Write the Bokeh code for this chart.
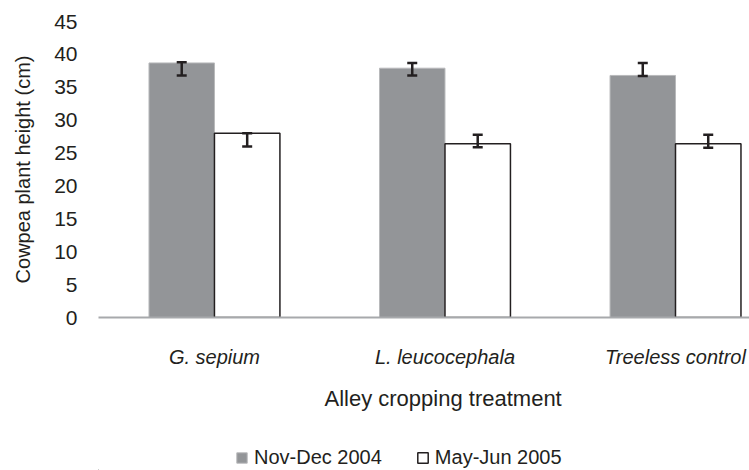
from bokeh.plotting import figure
from bokeh.models import (ColumnDataSource, Range1d, FixedTicker, Legend, LegendItem,
                          Whisker, TeeHead, Title)
from bokeh.layouts import column
from bokeh.embed import file_html
from bokeh.resources import INLINE

# ---- data ----
categories = ["G. sepium", "L. leucocephala", "Treeless control"]
nov_dec_2004 = [38.7, 37.9, 36.8]
may_jun_2005 = [28.0, 26.4, 26.4]
nov_dec_err_low = [36.8, 36.8, 36.7]
nov_dec_err_high = [38.8, 38.7, 38.7]
may_jun_err_low = [26.0, 25.9, 25.8]
may_jun_err_high = [28.0, 27.8, 27.8]
y_ticks = [0, 5, 10, 15, 20, 25, 30, 35, 40, 45]
series_names = ["Nov-Dec 2004", "May-Jun 2005"]
x_title = "Alley cropping treatment"
y_title = "Cowpea plant height (cm)"

FONT = "Liberation Sans"
TXT = "#231f20"
BW = 0.284
STYLE1 = dict(fill_color="#939598", line_color="#b8b9bb", line_width=1)
STYLE2 = dict(fill_color="white", line_color="#231f20", line_width=1.5)

idx = list(range(len(categories)))
src1 = ColumnDataSource(dict(x=[i - BW / 2 for i in idx], top=nov_dec_2004,
                             lo=nov_dec_err_low, hi=nov_dec_err_high))
src2 = ColumnDataSource(dict(x=[i + BW / 2 for i in idx], top=may_jun_2005,
                             lo=may_jun_err_low, hi=may_jun_err_high))

p = figure(width=749, height=440, output_backend="svg", toolbar_location=None,
           x_range=Range1d(-0.503, 2.321), y_range=Range1d(0, 45),
           min_border_left=98, min_border_right=0, min_border_top=21,
           min_border_bottom=123,
           outline_line_color=None, background_fill_color="white")
p.grid.visible = False

r1 = p.vbar(x="x", top="top", width=BW, bottom=0, source=src1, **STYLE1)
r2 = p.vbar(x="x", top="top", width=BW, bottom=0, source=src2, **STYLE2)

for s in (src1, src2):
    w = Whisker(base="x", lower="lo", upper="hi", source=s, line_color=TXT, line_width=2.5,
                level="annotation",
                upper_head=TeeHead(size=10, line_color=TXT, line_width=2.5),
                lower_head=TeeHead(size=10, line_color=TXT, line_width=2.5))
    p.add_layout(w)

# x axis
xa = p.xaxis[0]
xa.ticker = FixedTicker(ticks=idx)
xa.major_label_overrides = {i: c for i, c in zip(idx, categories)}
xa.major_label_text_font = FONT
xa.major_label_text_font_style = "italic"
xa.major_label_text_font_size = "20px"
xa.major_label_text_color = TXT
xa.major_tick_line_color = None
xa.major_tick_out = 0
xa.major_tick_in = 0
xa.minor_tick_line_color = None
xa.axis_line_color = "#a7a9ac"
xa.axis_line_width = 2
xa.major_label_standoff = 28

# y axis
ya = p.yaxis[0]
ya.ticker = FixedTicker(ticks=y_ticks)
ya.major_label_text_font = FONT
ya.major_label_text_font_size = "21px"
ya.major_label_text_color = TXT
ya.major_tick_line_color = None
ya.major_tick_out = 0
ya.major_tick_in = 0
ya.minor_tick_line_color = None
ya.axis_line_color = None
ya.major_label_standoff = 21
ya.axis_label = y_title
ya.axis_label_text_font = FONT
ya.axis_label_text_font_style = "normal"
ya.axis_label_text_font_size = "20px"
ya.axis_label_text_color = TXT
ya.axis_label_standoff = 17

xt = Title(text=x_title, align="left", offset=226, vertical_align="top", standoff=30,
           text_font=FONT, text_font_style="normal", text_font_size="22px",
           text_color=TXT)
p.add_layout(xt, "below")

# legend strip below the chart (its bars sit outside the strip's view; only the key shows)
lg = figure(width=749, height=30, output_backend="svg", toolbar_location=None,
            x_axis_type=None, y_axis_type=None,
            x_range=Range1d(10, 11), y_range=Range1d(100, 101),
            min_border_left=0, min_border_right=0, min_border_top=0, min_border_bottom=0,
            outline_line_color=None)
lg.grid.visible = False
k1 = lg.vbar(x="x", top="top", width=BW, bottom=0, source=src1, **STYLE1)
k2 = lg.vbar(x="x", top="top", width=BW, bottom=0, source=src2, **STYLE2)

legend = Legend(items=[LegendItem(label=series_names[0], renderers=[k1]),
                       LegendItem(label=series_names[1], renderers=[k2])],
                orientation="horizontal", location=(137, 1),
                label_text_font=FONT, label_text_font_size="20px", label_text_color=TXT,
                glyph_width=13, glyph_height=13, label_standoff=6, spacing=34,
                border_line_color=None, background_fill_alpha=0,
                margin=0, padding=2)
lg.add_layout(legend, "center")

layout = column(p, lg, spacing=0)
open("out.html", "w").write(file_html(layout, INLINE))
